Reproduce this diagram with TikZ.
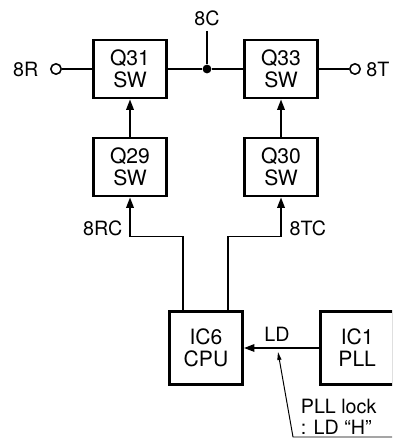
\documentclass[tikz,border=0pt]{standalone}
\usepackage{fontspec}
\setmainfont{TeX Gyre Heros}
\usetikzlibrary{arrows.meta,calc}
\newcommand{\blkfont}{\fontsize{15}{15.8}\selectfont}
\newcommand{\lblfont}{\fontsize{14}{15}\selectfont}

\begin{document}
\begin{tikzpicture}[
    blk/.style={draw,line width=2.1pt,minimum width=1.83cm,minimum height=1.45cm,align=center,inner sep=1pt,font=\blkfont},
    port/.style={circle,draw,line width=1.1pt,fill=white,inner sep=0pt,minimum size=0.26cm},
    dot/.style={circle,fill,inner sep=0pt,minimum size=0.22cm},
    lbl/.style={inner sep=1pt,font=\lblfont},
    wire/.style={line width=1.1pt},
    arr/.style={-{Triangle[length=0.26cm,width=0.19cm]},line width=1.1pt},
    note/.style={-{Triangle[length=0.2cm,width=0.1cm]},line width=0.7pt}
  ]
    \path[use as bounding box,fill=white] (0,0) rectangle (9.8,11);
    \clip (0,0) rectangle (9.8,11);

    % switches
    \node[blk] (q31) at (3.25,9.275) {Q31\\SW};
    \node[blk] (q33) at (7.025,9.275) {Q33\\SW};
    \node[blk] (q29) at (3.25,6.825) {Q29\\SW};
    \node[blk] (q30) at (7.025,6.825) {Q30\\SW};

    % cpu and pll
    \node[blk,minimum height=1.83cm] (ic6) at (5.15,2.3) {IC6\\CPU};
    \node[blk,minimum height=1.83cm] (ic1) at (8.93,2.3) {IC1\\PLL};

    % supply line
    \node[port] (r8) at (1.4,9.275) {};
    \node[port] (t8) at (8.875,9.275) {};
    \node[dot] (jn) at (5.175,9.275) {};
    \coordinate (c8) at (5.175,10.225);
    \node[lbl,anchor=east] (r8txt) at (1.0,9.275) {8R};
    \node[lbl,anchor=west] (t8txt) at (9.12,9.275) {8T};
    \node[lbl] (c8txt) at (5.175,10.55) {8C};
    \draw[wire] (r8) -- (q31);
    \draw[wire] (q31) -- (jn) -- (q33);
    \draw[wire] (c8) -- (jn);
    \draw[wire] (q33) -- (t8);

    \draw[arr] (q29) -- (q31);
    \draw[arr] (q30) -- (q33);

    % control lines
    \draw[arr] ([xshift=-0.575cm]ic6.north) |- ($(q29.south)+(0,-0.975)$) -- (q29.south);
    \draw[arr] ([xshift=0.55cm]ic6.north) |- ($(q30.south)+(0,-0.975)$) -- (q30.south);
    \node[lbl,anchor=east] (rctxt) at (3.1,5.3) {8RC};
    \node[lbl,anchor=west] (tctxt) at (7.2,5.3) {8TC};

    \draw[arr] (ic1) -- (ic6);
    \node[lbl] (ldtxt) at (6.925,2.65) {LD};

    % note
    \coordinate (ldtip) at (6.95,2.2);
    \coordinate (nfoot) at (7.325,0.075);
    \coordinate (nend) at (9.8,0.075);
    \draw[note] (nend) -- (nfoot) -- (ldtip);
    \node[lbl,align=left,anchor=west] (pllnote) at (7.48,0.58) {PLL lock\\: LD “H”};
  \end{tikzpicture}
\end{document}
